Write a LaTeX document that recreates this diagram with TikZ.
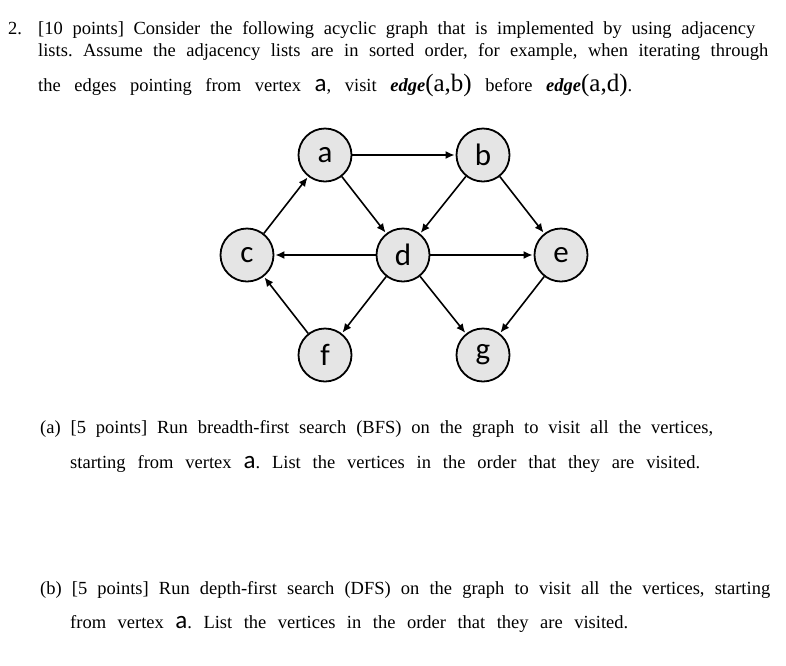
\documentclass[tikz,border=0pt]{standalone}
\usepackage{fontspec}
\usetikzlibrary{arrows.meta}
\setmainfont{Liberation Serif}
\newfontfamily\calfont{Carlito}
\frenchspacing
\begin{document}
\begin{tikzpicture}[x=1pt,y=-1pt,
  vtx/.style={circle,draw,line width=1.8pt,fill=gray!20,minimum size=53pt,inner sep=0pt,font=\calfont\fontsize{31}{31}\selectfont},
  arr/.style={-{Latex[length=9pt,width=8pt]},line width=1.6pt,shorten >=1pt},
  txt/.style={anchor=base west,inner sep=0pt,font=\fontsize{18.5}{20}\selectfont}]
\useasboundingbox (0,0) rectangle (786,665);
\node[txt] (n2) at (8,34) {2.};
\node[txt] (l1) at (38,34) {\makebox[717pt][s]{[10 points] Consider the following acyclic graph that is implemented by using adjacency}};
\node[txt] (l2) at (38,56) {\makebox[730pt][s]{lists. Assume the adjacency lists are in sorted order, for example, when iterating through}};
\node[txt] (l3) at (38,91) {\makebox[594pt][s]{the edges pointing from vertex {\calfont\fontsize{25}{25}\selectfont a}, visit \textbf{\textit{edge}}{\fontsize{25}{25}\selectfont(a,b)} before \textbf{\textit{edge}}{\fontsize{25}{25}\selectfont(a,d)}.}};
\node[vtx] (a) at (325,155) {a};
\node[vtx] (b) at (483,155) {b};
\node[vtx] (c) at (247,255) {c};
\node[vtx] (d) at (403,255) {d};
\node[vtx] (e) at (561,255) {e};
\node[vtx] (f) at (325,355) {f};
\node[vtx] (g) at (483,355) {g};
\draw[arr] (a) -- (b);
\draw[arr] (a) -- (d);
\draw[arr] (b) -- (d);
\draw[arr] (b) -- (e);
\draw[arr] (c) -- (a);
\draw[arr] (d) -- (c);
\draw[arr] (d) -- (e);
\draw[arr] (d) -- (f);
\draw[arr] (d) -- (g);
\draw[arr] (f) -- (c);
\draw[arr] (e) -- (g);
\node[txt] (pa1) at (40,433) {\makebox[673pt][s]{(a) [5 points] Run breadth-first search (BFS) on the graph to visit all the vertices,}};
\node[txt] (pa2) at (70,468) {\makebox[630pt][s]{starting from vertex {\calfont\fontsize{25}{25}\selectfont a}. List the vertices in the order that they are visited.}};
\node[txt] (pb1) at (40,594) {\makebox[730pt][s]{(b) [5 points] Run depth-first search (DFS) on the graph to visit all the vertices, starting}};
\node[txt] (pb2) at (70,628) {\makebox[558pt][s]{from vertex {\calfont\fontsize{25}{25}\selectfont a}. List the vertices in the order that they are visited.}};
\end{tikzpicture}
\end{document}
